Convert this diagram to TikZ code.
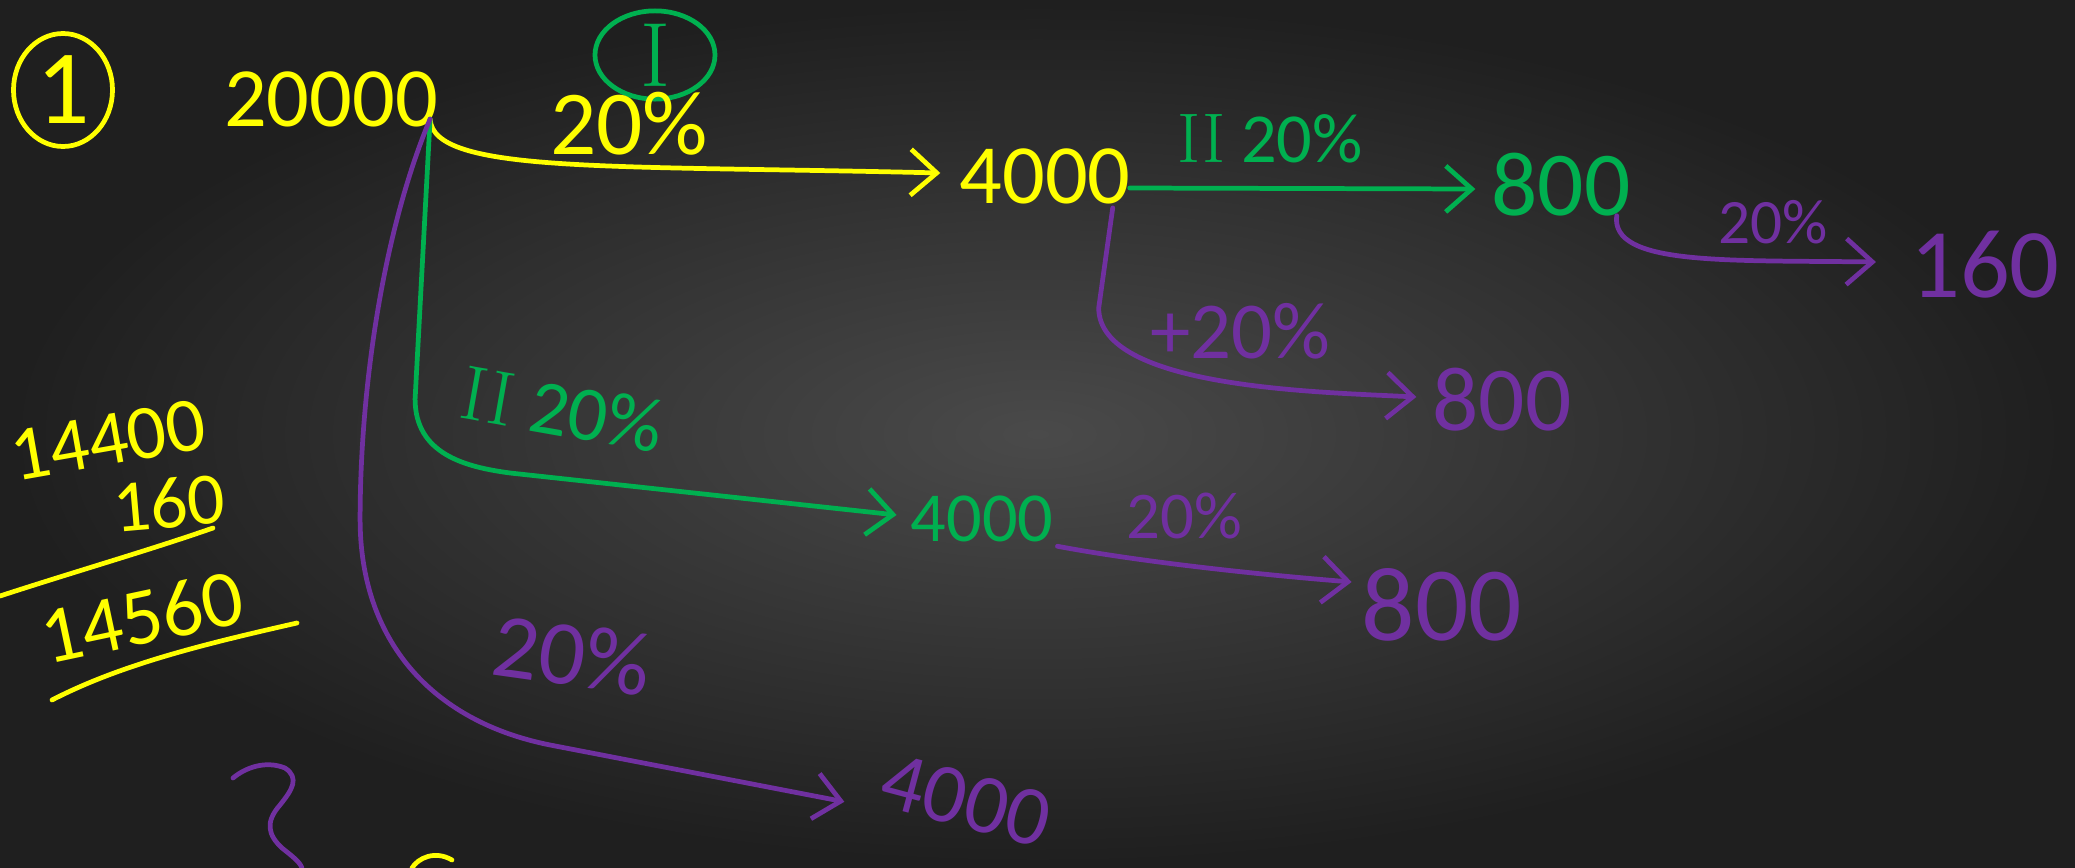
\documentclass[tikz,border=0pt]{standalone}
\usepackage{fontspec}
\usepackage{tikz}
\usetikzlibrary{arrows.meta,shapes.geometric,calc}
\newfontfamily\handfont{Carlito}
\definecolor{chalkyellow}{HTML}{FFFF00}
\definecolor{chalkgreen}{HTML}{00B050}
\definecolor{chalkpurple}{HTML}{7030A0}

\begin{document}
\begin{tikzpicture}[x=0.1mm, y=-0.1mm,
  num/.style={font=\handfont\fontsize{#1}{#1}\selectfont, inner sep=1pt},
  ytxt/.style={text=chalkyellow},
  gtxt/.style={text=chalkgreen},
  ptxt/.style={text=chalkpurple},
  pen/.style={line width=1.35pt, line cap=round, line join=round},
  arrow/.style={pen, -{Straight Barb[length=2.6mm, width=4.6mm, line width=1.35pt]}}
]
% Board
\useasboundingbox (0,0) rectangle (2075,868);
\shade[inner color=black!71, outer color=black!88] (0,0) rectangle (2075,868);

% Main values
\node[ellipse, draw=chalkyellow, pen, ytxt, num=30, minimum width=9.9mm, minimum height=11.3mm, inner sep=0pt] (one) at (63,90) {1};
\node[num=24, ytxt] (top) at (331,99) {20000};
\node[ellipse, draw=chalkgreen, pen, gtxt, num=26, minimum width=12mm, minimum height=8.8mm, inner sep=0pt] (stageI) at (655,55) {\rmfamily I};
\node[num=26, ytxt] (pctA) at (629,124) {20\%};
\node[num=24, ytxt] (fourA) at (1045,176) {4000};
\node[num=20, gtxt] (pctB) at (1270,139) {{\rmfamily II} 20\%};
\node[num=26, gtxt] (eightA) at (1561,185) {800};
\node[num=18, ptxt] (pctC) at (1773,222) {20\%};
\node[num=28, ptxt] (sixteen) at (1985,265) {160};
\node[num=23, ptxt] (pctD) at (1240,331) {+20\%};
\node[num=26, ptxt] (eightB) at (1502,400) {800};
\node[num=22, gtxt, rotate=-10] (pctE) at (562,410) {{\rmfamily II}\ 20\%};
\node[num=20, gtxt] (fourB) at (982,519) {4000};
\node[num=19, ptxt] (pctF) at (1184,516) {20\%};
\node[num=30, ptxt] (eightC) at (1442,605) {800};
\node[num=26, ptxt, rotate=-8] (pctG) at (572,655) {20\%};
\node[num=24, ptxt, rotate=-15] (fourC) at (966,800) {4000};

% Side sum
\node[num=22, ytxt, rotate=10] (sumA) at (108,440) {14400};
\node[num=21, ytxt, rotate=5] (sumB) at (169,503) {160};
\node[num=23, ytxt, rotate=12] (sumC) at (142,617) {14560};
\draw[chalkyellow, pen] (0,596) .. controls (80,570) and (150,550) .. (213,528);
\draw[chalkyellow, pen] (52,700) .. controls (120,665) and (200,645) .. (297,623);

% Arrows
\coordinate (fork) at ($(top.east)+(-12,20)$);
\draw[arrow, chalkyellow] (fork) .. controls +(3,55) and +(-330,-8) .. ($(fourA.west)+(-15,-3)$);
\draw[arrow, chalkgreen] ($(fourA.east)+(-5,12)$) -- ($(eightA.west)+(-12,4)$);
\draw[arrow, chalkpurple] ($(eightA.south east)+(-18,-5)$) .. controls +(-6,50) and +(-150,-2) .. ($(sixteen.west)+(-30,-3)$);
\draw[arrow, chalkpurple] ($(fourA.south east)+(-22,0)$) -- ++(-14,100) .. controls +(0,80) and +(-100,-5) .. ($(eightB.west)+(-12,-3)$);
\draw[arrow, chalkgreen] (fork) -- ++(-15,280) .. controls +(0,55) and +(-45,-6) .. ++(95,74) -- ($(fourB.west)+(-10,-4)$);
\draw[arrow, chalkpurple] (fourB.south east) .. controls +(80,15) and +(-100,-8) .. ($(eightC.west)+(-6,-23)$);
\draw[arrow, chalkpurple] (fork) .. controls +(-50,120) and +(0,-120) .. ++(-70,400) .. controls +(0,120) and +(-120,-24) .. ++(190,226) -- ($(fourC.west)+(-35,25)$);

% Cut-off strokes at the bottom
\draw[chalkpurple, pen] (233,778) .. controls (245,768) and (265,760) .. (285,768) .. controls (300,778) and (292,790) .. (280,805) .. controls (265,822) and (268,835) .. (282,848) .. controls (292,856) and (300,862) .. (302,868);
\draw[chalkyellow, pen] (412,868) .. controls (418,858) and (435,850) .. (452,860);
\end{tikzpicture}
\end{document}
